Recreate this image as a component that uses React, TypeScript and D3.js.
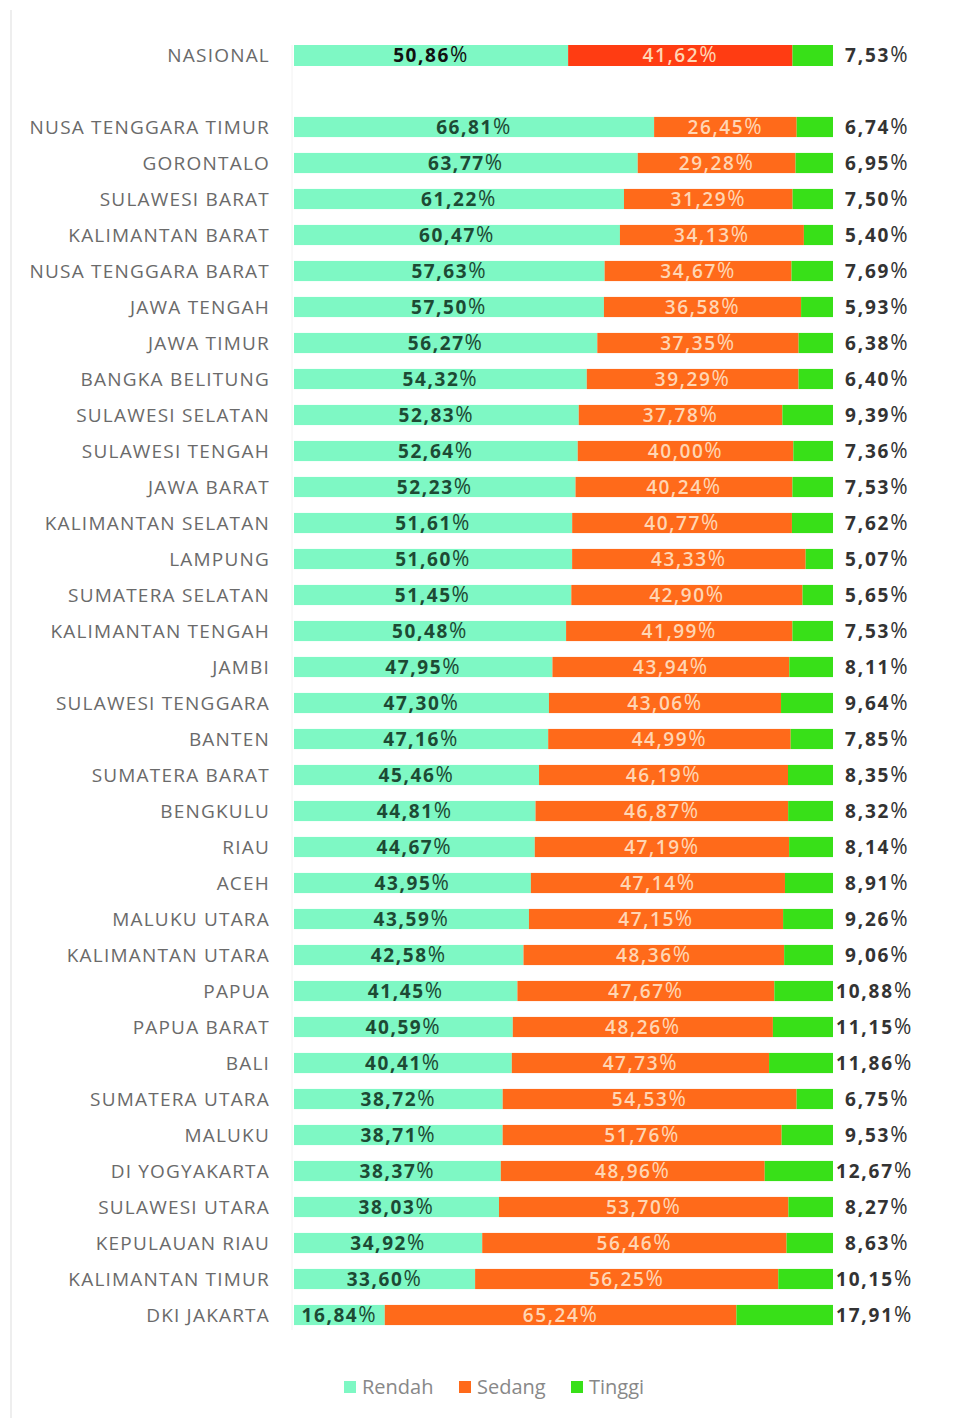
import * as d3 from 'd3';

const provinces = [
  'NUSA TENGGARA TIMUR', 'GORONTALO', 'SULAWESI BARAT', 'KALIMANTAN BARAT', 'NUSA TENGGARA BARAT',
  'JAWA TENGAH', 'JAWA TIMUR', 'BANGKA BELITUNG', 'SULAWESI SELATAN', 'SULAWESI TENGAH',
  'JAWA BARAT', 'KALIMANTAN SELATAN', 'LAMPUNG', 'SUMATERA SELATAN', 'KALIMANTAN TENGAH',
  'JAMBI', 'SULAWESI TENGGARA', 'BANTEN', 'SUMATERA BARAT', 'BENGKULU',
  'RIAU', 'ACEH', 'MALUKU UTARA', 'KALIMANTAN UTARA', 'PAPUA',
  'PAPUA BARAT', 'BALI', 'SUMATERA UTARA', 'MALUKU', 'DI YOGYAKARTA',
  'SULAWESI UTARA', 'KEPULAUAN RIAU', 'KALIMANTAN TIMUR', 'DKI JAKARTA',
];
const rendah = [
  66.81, 63.77, 61.22, 60.47, 57.63, 57.5, 56.27, 54.32, 52.83, 52.64,
  52.23, 51.61, 51.6, 51.45, 50.48, 47.95, 47.3, 47.16, 45.46, 44.81,
  44.67, 43.95, 43.59, 42.58, 41.45, 40.59, 40.41, 38.72, 38.71, 38.37,
  38.03, 34.92, 33.6, 16.84,
];
const sedang = [
  26.45, 29.28, 31.29, 34.13, 34.67, 36.58, 37.35, 39.29, 37.78, 40.0,
  40.24, 40.77, 43.33, 42.9, 41.99, 43.94, 43.06, 44.99, 46.19, 46.87,
  47.19, 47.14, 47.15, 48.36, 47.67, 48.26, 47.73, 54.53, 51.76, 48.96,
  53.7, 56.46, 56.25, 65.24,
];
const tinggi = [
  6.74, 6.95, 7.5, 5.4, 7.69, 5.93, 6.38, 6.4, 9.39, 7.36,
  7.53, 7.62, 5.07, 5.65, 7.53, 8.11, 9.64, 7.85, 8.35, 8.32,
  8.14, 8.91, 9.26, 9.06, 10.88, 11.15, 11.86, 6.75, 9.53, 12.67,
  8.27, 8.63, 10.15, 17.91,
];
const nasional = { name: 'NASIONAL', rendah: 50.86, sedang: 41.62, tinggi: 7.53 };
const legendItems = ['Rendah', 'Sedang', 'Tinggi'];

const W = 966;
const H = 1418;
const FONT = "'Open Sans', 'DejaVu Sans', sans-serif";
const colors = { rendah: '#7ef8c4', sedang: '#ff6a1a', sedangNas: '#ff3c12', tinggi: '#38e018' };
const num = (v: number) => d3.format('.2f')(v).replace('.', ',');

type Row = { name: string; rendah: number; sedang: number; tinggi: number };

const Pct = ({ v }: { v: number }) => (
  <>
    {num(v)}
    <tspan fontWeight={400} fontSize={21}>%</tspan>
  </>
);

const App = () => {
  const x = d3.scaleLinear().domain([0, 100]).range([294, 833]);
  const y = d3
    .scaleBand<string>()
    .domain(provinces)
    .range([109, 1333])
    .paddingInner(0.44)
    .paddingOuter(0.22);
  const rows: Row[] = provinces.map((p, i) => ({ name: p, rendah: rendah[i], sedang: sedang[i], tinggi: tinggi[i] }));

  const drawRow = (r: Row, top: number, h: number, sedangColor: string, nas: boolean) => {
    const cy = top + h / 2;
    const x0 = x(0);
    const x1 = x(r.rendah);
    const x2 = x(r.rendah + r.sedang);
    const x3 = x(100);
    return (
      <g key={r.name}>
        <text x={270} y={cy} dy="0.36em" textAnchor="end" fill="#6a6a6a" fontSize={19} letterSpacing={1.2}>
          {r.name}
        </text>
        <rect x={x0} y={top} width={x1 - x0} height={h} fill={colors.rendah} />
        <rect x={x1} y={top} width={x2 - x1} height={h} fill={sedangColor} />
        <rect x={x2} y={top} width={x3 - x2} height={h} fill={colors.tinggi} />
        <text x={(x0 + x1) / 2} y={cy} dy="0.36em" textAnchor="middle" fill={nas ? '#111' : '#1d4a34'} fontWeight={700} fontSize={19} letterSpacing={1.6}>
          <Pct v={r.rendah} />
        </text>
        <text x={(x1 + x2) / 2} y={cy} dy="0.36em" textAnchor="middle" fill="#ffd6b4" fontWeight={600} fontSize={19} letterSpacing={1.6}>
          <Pct v={r.sedang} />
        </text>
        <text x={r.tinggi >= 10 ? 836 : 845} y={cy} dy="0.36em" textAnchor="start" fill="#333" fontWeight={700} fontSize={19} letterSpacing={1.8}>
          <Pct v={r.tinggi} />
        </text>
      </g>
    );
  };

  const legendX = [344, 459, 571];
  const legendColors = [colors.rendah, colors.sedang, colors.tinggi];

  return (
    <svg width={W} height={H} style={{ position: 'absolute', left: 0, top: 0, fontFamily: FONT }}>
      <rect width={W} height={H} fill="#fff" />
      <line x1={11} x2={11} y1={10} y2={H} stroke="#eee" strokeWidth={2} />
      <line x1={292} x2={292} y1={45} y2={1330} stroke="#f2f2f2" strokeWidth={1} />
      {drawRow(nasional, 45, 21, colors.sedangNas, true)}
      {rows.map((r) => drawRow(r, y(r.name)!, y.bandwidth(), colors.sedang, false))}
      <g>
        {legendItems.map((l, i) => (
          <g key={l}>
            <rect x={legendX[i]} y={1381} width={12} height={12} fill={legendColors[i]} />
            <text x={legendX[i] + 18} y={1387} dy="0.36em" fill="#888" fontSize={20}>
              {l}
            </text>
          </g>
        ))}
      </g>
    </svg>
  );
};

export default App;
